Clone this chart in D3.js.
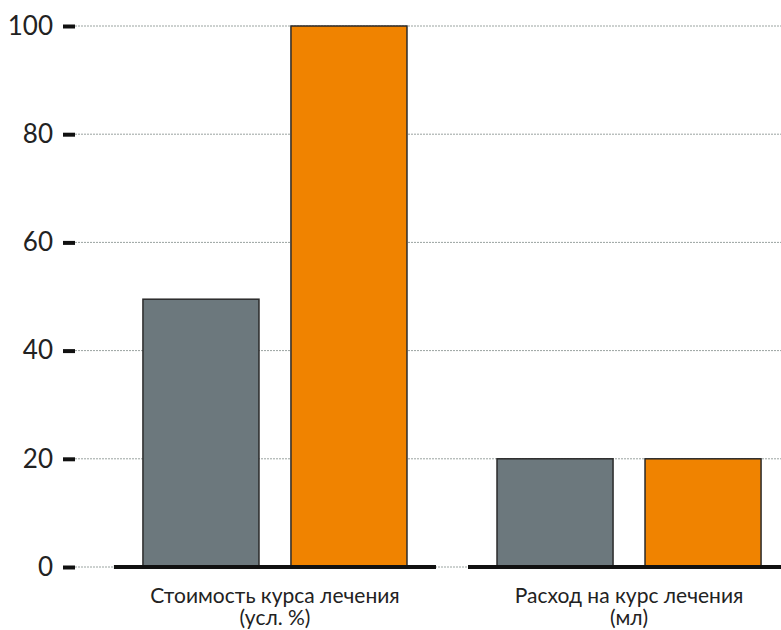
<!DOCTYPE html>
<html>
<head>
<meta charset="utf-8">
<script src="https://cdn.jsdelivr.net/npm/d3@7"></script>
<style>
  body { margin: 0; background: #fff; }
  text { font-family: Lato, "Open Sans", sans-serif; fill: #222; }
</style>
</head>
<body>
<svg id="chart" width="781" height="630"></svg>
<script>
const categories = [["Стоимость курса лечения", "(усл. %)"], ["Расход на курс лечения", "(мл)"]];
const seriesNames = ["A", "B"];
const seriesA = [49.5, 20];
const seriesB = [100, 20];
const yTicks = [0, 20, 40, 60, 80, 100];
const colors = ["#6c787d", "#f08300"];

const svg = d3.select("svg#chart");
const width = +svg.attr("width");

const yScale = d3.scaleLinear().domain([0, 100]).range([567, 26]);
const xScale = d3.scaleBand().domain(d3.range(categories.length))
  .range([98, 806]).paddingInner(0.0904).paddingOuter(0.045);
const inner = d3.scaleBand().domain(seriesNames)
  .range([0, xScale.bandwidth()]).paddingInner(0.216).paddingOuter(0.196);

// gridlines
svg.append("g")
  .selectAll("line").data(yTicks).join("line")
  .attr("x1", 75).attr("x2", width)
  .attr("y1", d => yScale(d)).attr("y2", d => yScale(d))
  .attr("stroke", "#9aa3a0").attr("stroke-width", 1)
  .attr("stroke-dasharray", "2,1");

// y axis
const leftAxis = d3.axisLeft(yScale).tickValues(yTicks).tickSize(12).tickPadding(10);
const ax = svg.append("g").attr("transform", "translate(75,0)").call(leftAxis);
ax.attr("font-size", null).attr("font-family", null);
ax.select(".domain").remove();
ax.selectAll(".tick line").attr("stroke", "#111").attr("stroke-width", 4);
ax.selectAll(".tick text").style("font-size", "26px").attr("fill", "#222");

// bars
const rows = categories.map((c, i) => [seriesA[i], seriesB[i]]);
const groups = svg.append("g").selectAll("g").data(rows).join("g")
  .attr("transform", (d, i) => `translate(${xScale(i)},0)`);

groups.selectAll("rect").data(d => d.map((v, j) => ({ v, s: seriesNames[j], j }))).join("rect")
  .attr("x", d => inner(d.s))
  .attr("y", d => yScale(d.v))
  .attr("width", inner.bandwidth())
  .attr("height", d => yScale(0) - yScale(d.v))
  .attr("fill", d => colors[d.j])
  .attr("stroke", "#2a2a2a").attr("stroke-width", 1.5);

// baselines
groups.append("line")
  .attr("x1", 0).attr("x2", xScale.bandwidth())
  .attr("y1", yScale(0)).attr("y2", yScale(0))
  .attr("stroke", "#111").attr("stroke-width", 4);

// category labels
groups.append("text")
  .attr("text-anchor", "middle")
  .attr("x", xScale.bandwidth() / 2)
  .style("font-size", "21px")
  .selectAll("tspan").data((d, i) => categories[i]).join("tspan")
  .attr("x", xScale.bandwidth() / 2)
  .attr("y", (d, k) => 603 + k * 22)
  .text(d => d);
</script>
</body>
</html>
